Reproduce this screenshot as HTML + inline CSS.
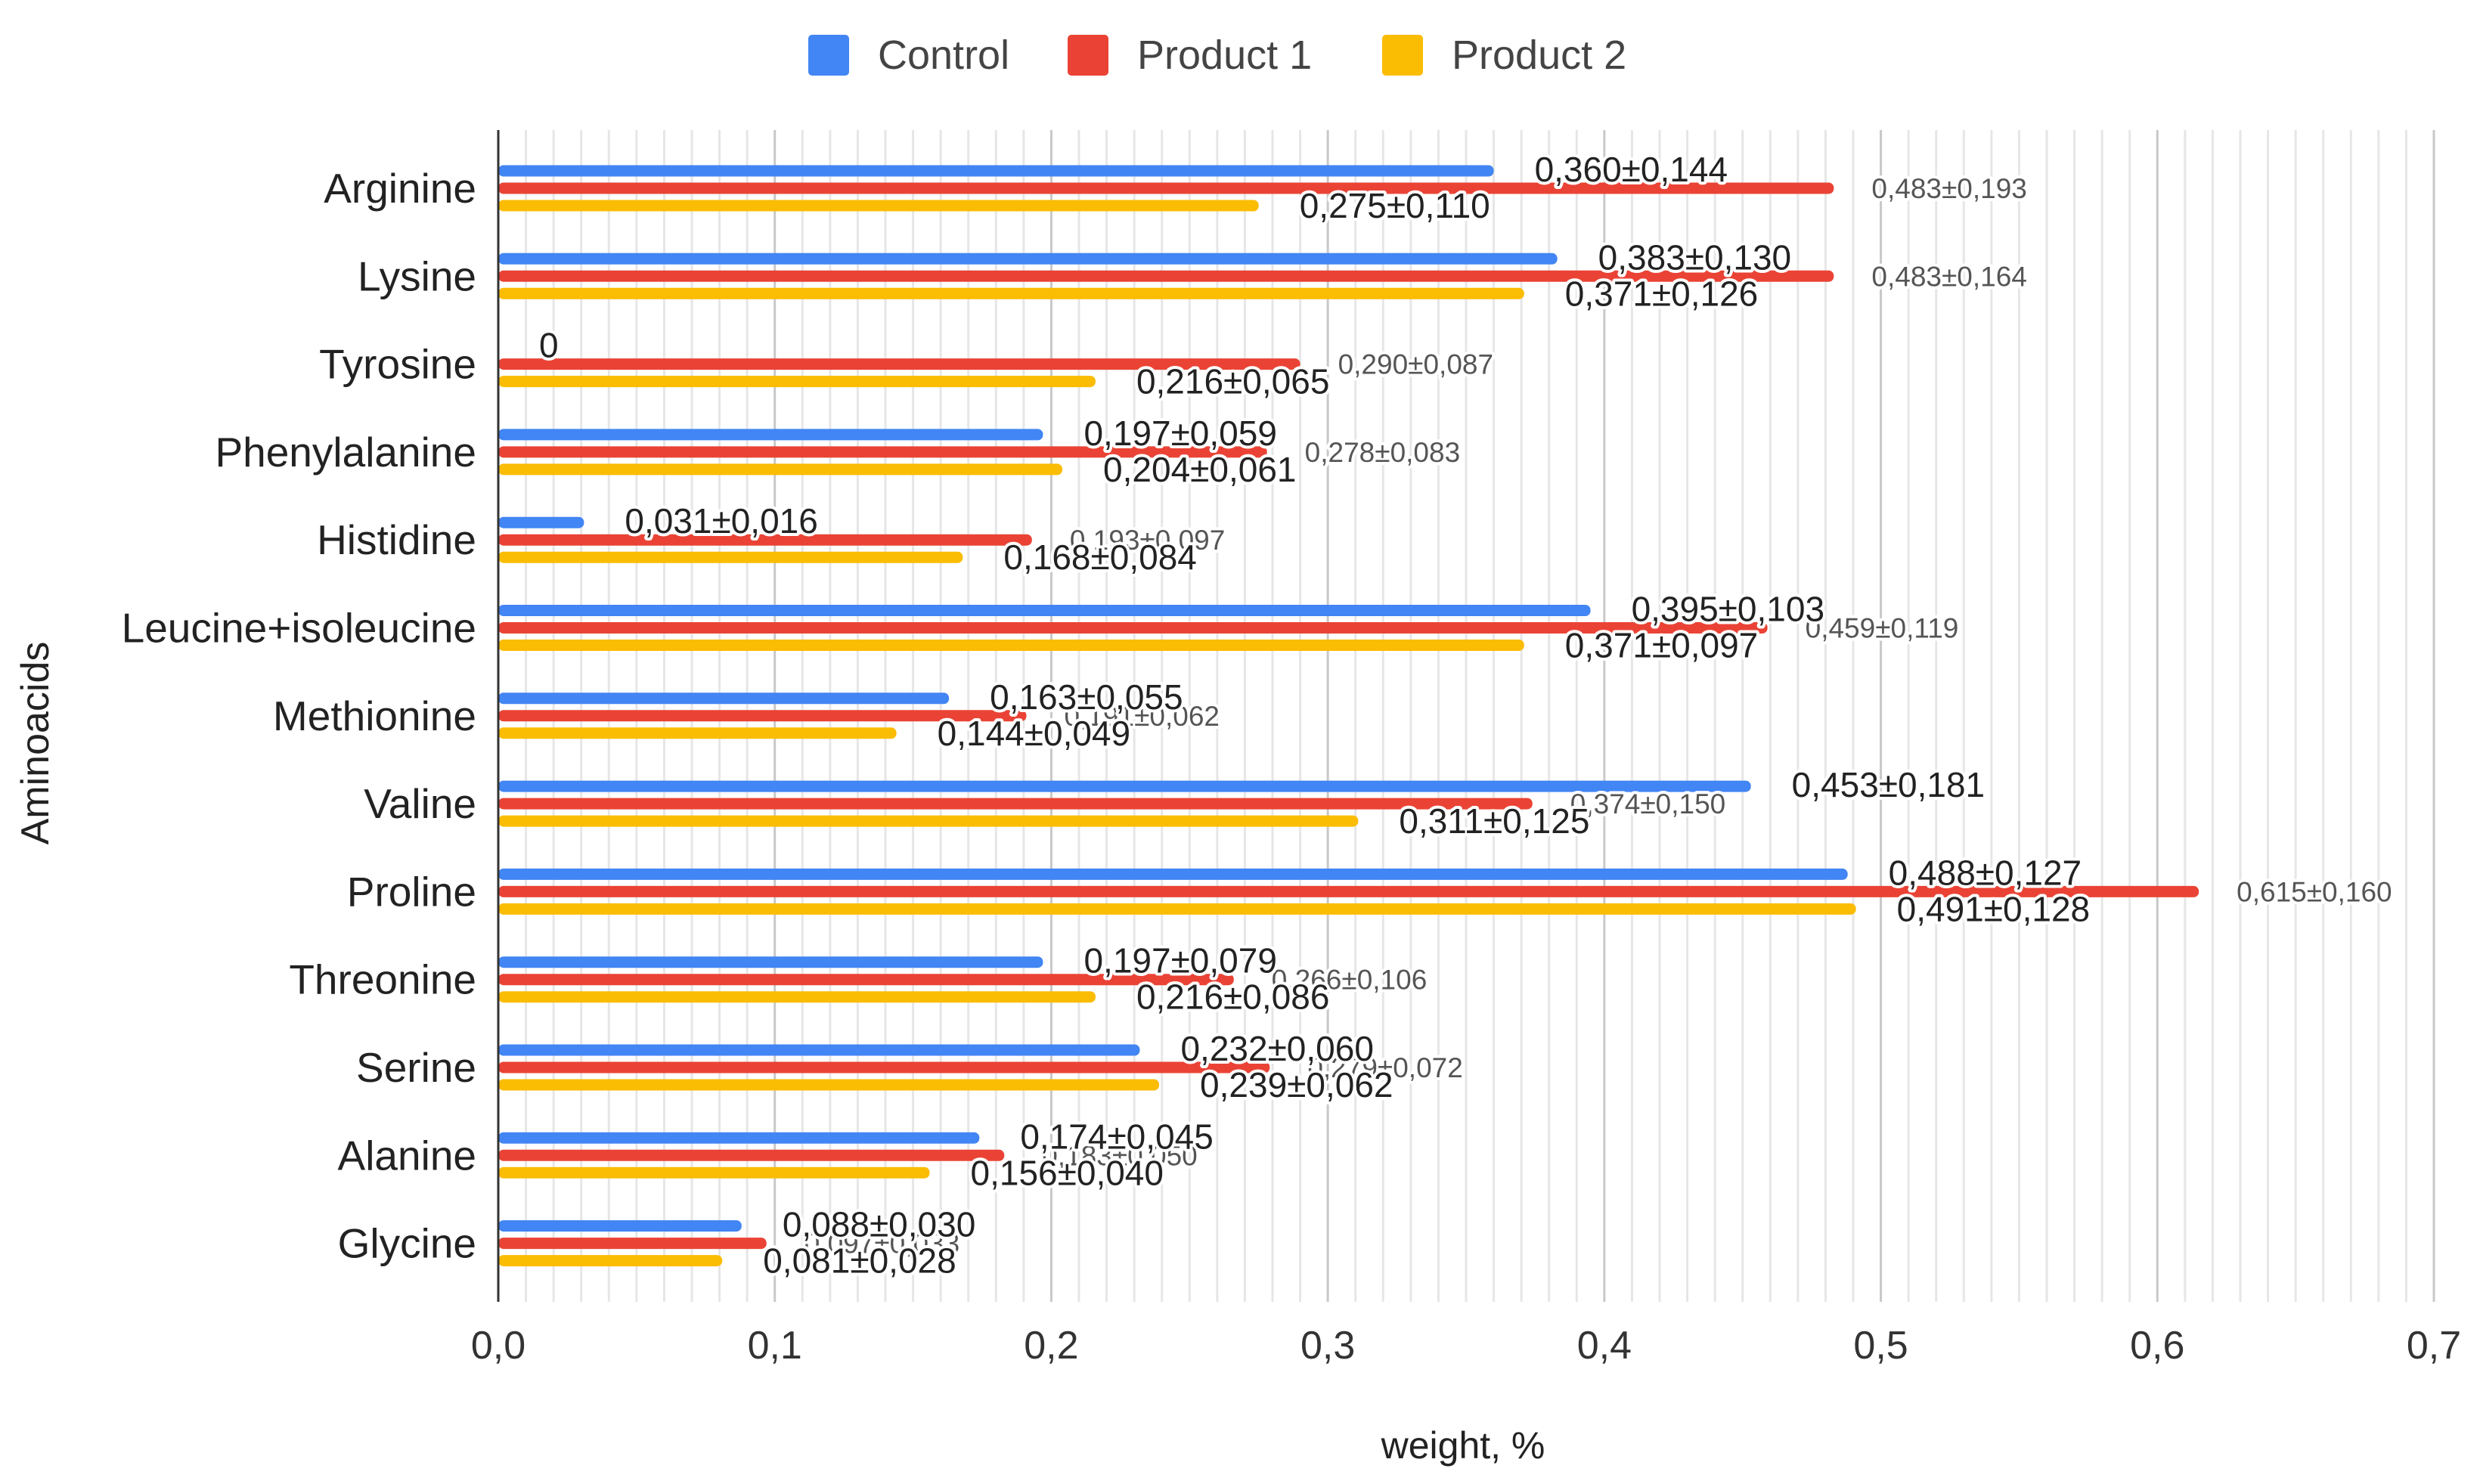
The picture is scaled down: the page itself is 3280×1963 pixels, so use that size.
<!DOCTYPE html>
<html><head><meta charset="utf-8"><style>
html,body{margin:0;padding:0;background:#fff;}
svg{display:block;font-family:"Liberation Sans",Arial,sans-serif;}
</style></head><body>
<svg id="chart" width="3280" height="1963" viewBox="0 0 3280 1963" xmlns="http://www.w3.org/2000/svg">
<rect width="3280" height="1963" fill="#fff"/>
<g id="grid"></g>
<g id="bars"></g>
<g id="labels"></g>
<g id="axes"></g>
<g>
  <g>
    <rect x="1069" y="46" width="54" height="54" rx="5" fill="#4285F4"/>
    <text x="1161" y="91" font-size="54" fill="#444">Control</text>
  </g>
  <g>
    <rect x="1412" y="46" width="54" height="54" rx="5" fill="#EA4335"/>
    <text x="1504" y="91" font-size="54" fill="#444">Product 1</text>
  </g>
  <g>
    <rect x="1828" y="46" width="54" height="54" rx="5" fill="#FBBC04"/>
    <text x="1920" y="91" font-size="54" fill="#444">Product 2</text>
  </g>
</g>
<text x="0" y="0" transform="translate(64,983) rotate(-90)" text-anchor="middle" font-size="52" fill="#222">Aminoacids</text>
<text x="1935" y="1929" text-anchor="middle" font-size="50" fill="#222">weight, %</text>
</svg>
<script>
const categories = ["Arginine","Lysine","Tyrosine","Phenylalanine","Histidine","Leucine+isoleucine","Methionine","Valine","Proline","Threonine","Serine","Alanine","Glycine"];
const controlValues = [0.360,0.383,0,0.197,0.031,0.395,0.163,0.453,0.488,0.197,0.232,0.174,0.088];
const product1Values = [0.483,0.483,0.290,0.278,0.193,0.459,0.191,0.374,0.615,0.266,0.279,0.183,0.097];
const product2Values = [0.275,0.371,0.216,0.204,0.168,0.371,0.144,0.311,0.491,0.216,0.239,0.156,0.081];
const controlLabels = ["0,360±0,144","0,383±0,130","0","0,197±0,059","0,031±0,016","0,395±0,103","0,163±0,055","0,453±0,181","0,488±0,127","0,197±0,079","0,232±0,060","0,174±0,045","0,088±0,030"];
const product1Labels = ["0,483±0,193","0,483±0,164","0,290±0,087","0,278±0,083","0,193±0,097","0,459±0,119","0,191±0,062","0,374±0,150","0,615±0,160","0,266±0,106","0,279±0,072","0,183±0,050","0,097±0,033"];
const product2Labels = ["0,275±0,110","0,371±0,126","0,216±0,065","0,204±0,061","0,168±0,084","0,371±0,097","0,144±0,049","0,311±0,125","0,491±0,128","0,216±0,086","0,239±0,062","0,156±0,040","0,081±0,028"];
const tickValues = [0,0.1,0.2,0.3,0.4,0.5,0.6,0.7];
const tickLabels = ["0,0","0,1","0,2","0,3","0,4","0,5","0,6","0,7"];

const NS="http://www.w3.org/2000/svg";
const X0=659, X1=3219, VMAX=0.7, TOP=172, BOTTOM=1722;
const FIRST=226, STEP=116.3;
function xs(v){return X0+(v/VMAX)*(X1-X0);}
function yc(i,s){return FIRST+i*STEP+s*23;}
function mk(tag,attrs,parent){const e=document.createElementNS(NS,tag);for(const k in attrs)e.setAttribute(k,attrs[k]);parent.appendChild(e);return e;}
const grid=document.getElementById('grid'),bars=document.getElementById('bars'),labels=document.getElementById('labels'),axes=document.getElementById('axes');

for(let k=1;k<=70;k++){
  const v=k/100;
  const major=(k%10===0);
  const l=mk('line',{x1:xs(v),x2:xs(v),y1:TOP,y2:BOTTOM,stroke:major?'#c8c8c8':'#e6e6e6','stroke-width':3},grid);
  
  
}
tickValues.forEach((v,i)=>{
  const t=mk('text',{x:xs(v),y:1797,'text-anchor':'middle','font-size':52,fill:'#333'},axes);
  t.textContent=tickLabels[i];
  
  
});
const ax=mk('line',{x1:X0,x2:X0,y1:TOP,y2:BOTTOM,stroke:'#333','stroke-width':3},axes);



const series=[{vals:controlValues,col:'#4285F4',name:'control'},{vals:product1Values,col:'#EA4335',name:'product-1'},{vals:product2Values,col:'#FBBC04',name:'product-2'}];
categories.forEach((c,i)=>{
  const t=mk('text',{x:630,y:yc(i,1)+19,'text-anchor':'end','font-size':55,fill:'#222'},axes);
  t.textContent=c;
  
  
  series.forEach((s,si)=>{
    const w=xs(s.vals[i])-X0;
    if(w>0){
      const r=mk('rect',{x:X0,y:yc(i,si)-7.5,width:w,height:15,rx:7,fill:s.col},bars);
      
      
    }
  });
});
function lab(txt,x,y,size,col,name){
  const t=mk('text',{x:x,y:y,'font-size':size,fill:col,stroke:'#fff','stroke-width':8,'paint-order':'stroke','stroke-linejoin':'round'},labels);
  t.textContent=txt;
  
  
}
categories.forEach((c,i)=>{
  lab(product1Labels[i],xs(product1Values[i])+50,yc(i,1)+13,37,'#555','value-label-product-1');
});
categories.forEach((c,i)=>{
  lab(controlLabels[i],xs(controlValues[i])+54,yc(i,0)+14,46,'#222','value-label-control');
  lab(product2Labels[i],xs(product2Values[i])+54,yc(i,2)+16,46,'#222','value-label-product-2');
});
</script>
</body></html>
